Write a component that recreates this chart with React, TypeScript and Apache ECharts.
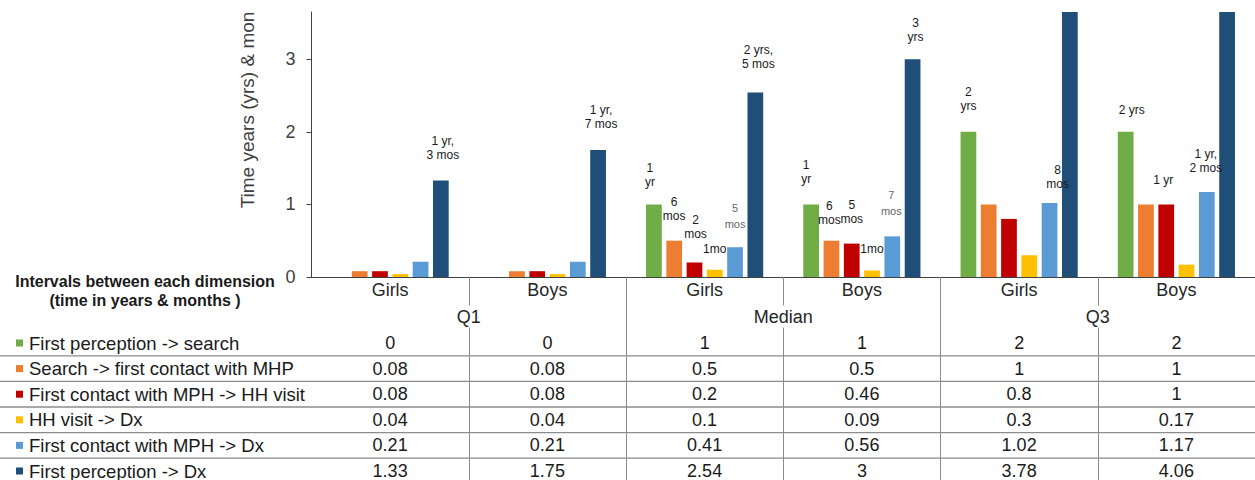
import React, { useEffect, useRef } from "react";
import * as echarts from "echarts";

// ---------- data ----------
const subCategories = ["Girls", "Boys", "Girls", "Boys", "Girls", "Boys"];
const groupCategories = ["Q1", "Median", "Q3"];
const seriesNames = [
  "First perception -> search",
  "Search -> first contact with MHP",
  "First contact with MPH -> HH visit",
  "HH visit -> Dx",
  "First contact with MPH -> Dx",
  "First perception -> Dx",
];
const perceptionToSearch = [0, 0, 1, 1, 2, 2];
const searchToContact = [0.08, 0.08, 0.5, 0.5, 1, 1];
const contactToVisit = [0.08, 0.08, 0.2, 0.46, 0.8, 1];
const visitToDx = [0.04, 0.04, 0.1, 0.09, 0.3, 0.17];
const contactToDx = [0.21, 0.21, 0.41, 0.56, 1.02, 1.17];
const perceptionToDx = [1.33, 1.75, 2.54, 3, 3.78, 4.06];
const yTickValues = [0, 1, 2, 3];
const headerLines = ["Intervals between each dimension", "(time in years & months )"];
const yAxisTitle = "Time years (yrs) & mon";
const barLabels = [
  ["", "", "1\nyr", "1\nyr", "2\nyrs", "2 yrs"],
  ["", "", "6\nmos", "6\nmos", "", ""],
  ["", "", "2\nmos", "5\nmos", "", "1 yr"],
  ["", "", "1mo", "1mo", "", ""],
  ["", "", "5\nmos", "7\nmos", "8\nmos", "1 yr,\n2 mos"],
  ["1 yr,\n3 mos", "1 yr,\n7 mos", "2 yrs,\n5 mos", "3\nyrs", "", ""],
];

const rows = [perceptionToSearch, searchToContact, contactToVisit, visitToDx, contactToDx, perceptionToDx];

// ---------- styles / layout ----------
const colors = ["#70AD47", "#ED7D31", "#C00000", "#FFC000", "#5B9BD5", "#1F4E79"];
const FONT = '"Liberation Sans", Arial, Helvetica, sans-serif';
const W = 1255;
const H = 480;
const GRID_LEFT = 311.5;
const GRID_WIDTH = 945;
const GRID_TOP = 12;
const AXIS_Y = 277;
const ROW_FIRST = 343;
const ROW_STEP = 25.6;

const labelNudges: Record<string, [number, number]> = {
  "5-0": [2, -1], "5-1": [3, -2],
  "0-2": [-4, 2], "1-2": [0, -1], "2-2": [1, -4], "3-2": [0, 3], "4-2": [0, 2], "5-2": [3, -5],
  "0-3": [-5, -1], "1-3": [-2, 3], "2-3": [0, -1], "3-3": [0, 3], "4-3": [-1, 0], "5-3": [3, 2],
  "0-4": [0, -2], "4-4": [8, 5],
  "0-5": [6, 2], "2-5": [-3, 0], "4-5": [-1, 0],
};
const softLabels = new Set(["4-2", "4-3"]);

function buildOption(): any {
  const xAxes: any[] = [
    {
      type: "category",
      gridIndex: 0,
      data: subCategories,
      position: "bottom",
      axisLine: { show: true, lineStyle: { color: "#404040", width: 1 } },
      axisTick: {
        show: true,
        length: H - AXIS_Y,
        interval: (i: number) => i !== 0,
        lineStyle: { color: "#8c8c8c", width: 1 },
      },
      axisLabel: {
        interval: 0,
        margin: 13,
        verticalAlign: "middle",
        fontSize: 18,
        color: "#262626",
        fontFamily: FONT,
      },
      splitLine: { show: false },
    },
    {
      type: "category",
      gridIndex: 0,
      data: groupCategories,
      position: "bottom",
      axisLine: { show: false },
      axisTick: { show: false },
      axisLabel: {
        interval: 0,
        margin: 39.5,
        verticalAlign: "middle",
        fontSize: 18,
        color: "#262626",
        fontFamily: FONT,
        backgroundColor: "#ffffff",
        padding: [0, 4],
        lineHeight: 22,
      },
      splitLine: { show: false },
    },
    ...rows.map((vals, r) => ({
      type: "category",
      gridIndex: 0,
      data: subCategories,
      position: "bottom",
      axisLine: { show: false },
      axisTick: { show: false },
      axisLabel: {
        interval: 0,
        margin: ROW_FIRST + r * ROW_STEP - AXIS_Y,
        verticalAlign: "middle",
        fontSize: 18,
        color: "#1a1a1a",
        fontFamily: FONT,
        formatter: (_v: string, idx: number) => String(vals[idx]),
      },
      splitLine: { show: false },
    })),
  ];

  const graphics: any[] = [
    {
      type: "text",
      x: 247,
      y: 110,
      rotation: Math.PI / 2,
      style: {
        text: yAxisTitle,
        fontSize: 19,
        fontFamily: FONT,
        fill: "#404040",
        align: "center",
        verticalAlign: "middle",
      },
    },
    ...headerLines.map((t, i) => ({
      type: "text",
      x: 145,
      y: 281 + i * 19,
      style: {
        text: t,
        fontSize: 16,
        fontWeight: "bold",
        fontFamily: FONT,
        fill: "#1a1a1a",
        align: "center",
        verticalAlign: "middle",
      },
    })),
  ];
  seriesNames.forEach((name, r) => {
    const cy = ROW_FIRST + r * ROW_STEP;
    graphics.push({
      type: "rect",
      shape: { x: 16, y: cy - 3.5, width: 7, height: 7 },
      style: { fill: colors[r] },
    });
    graphics.push({
      type: "text",
      x: 29,
      y: cy,
      style: {
        text: name,
        fontSize: 18.5,
        fontFamily: FONT,
        fill: "#1a1a1a",
        align: "left",
        verticalAlign: "middle",
      },
    });
    if (r < seriesNames.length - 1) {
      const ly = cy + ROW_STEP / 2;
      graphics.push({
        type: "line",
        shape: { x1: 0, y1: ly, x2: W, y2: ly },
        style: { stroke: "#8c8c8c", lineWidth: 1.3 },
      });
    }
  });

  return {
    animation: false,
    backgroundColor: "#ffffff",
    textStyle: { fontFamily: FONT },
    grid: { left: GRID_LEFT, width: GRID_WIDTH, top: GRID_TOP, height: AXIS_Y - GRID_TOP, containLabel: false },
    xAxis: xAxes,
    yAxis: {
      type: "value",
      min: 0,
      max: 3.65,
      interval: 1,
      axisLine: { show: true, lineStyle: { color: "#404040", width: 1 } },
      axisTick: { show: true, length: 5, customValues: yTickValues, lineStyle: { color: "#404040" } },
      axisLabel: { customValues: yTickValues, fontSize: 18, color: "#404040", margin: 16, fontFamily: FONT },
      splitLine: { show: false },
    },
    graphic: graphics,
    series: rows.map((vals, i) => ({
      type: "bar",
      name: seriesNames[i],
      xAxisIndex: 0,
      yAxisIndex: 0,
      barGap: "29%",
      barCategoryGap: "25.5%",
      itemStyle: { color: colors[i] },
      data: vals.map((v, j) => {
        const key = `${i}-${j}`;
        const txt = barLabels[i][j];
        const soft = softLabels.has(key);
        return {
          value: v,
          label: txt
            ? {
                show: true,
                position: "top",
                distance: 17,
                formatter: txt,
                offset: labelNudges[key] || [0, 0],
                fontSize: soft ? 11 : 12,
                lineHeight: soft ? 16 : 14,
                color: soft ? "#666666" : "#1a1a1a",
                fontFamily: FONT,
              }
            : { show: false },
        };
      }),
    })),
  };
}

export default function App() {
  const ref = useRef<HTMLDivElement>(null);
  useEffect(() => {
    if (!ref.current) return;
    const chart = echarts.init(ref.current, undefined, { renderer: "svg" });
    chart.setOption(buildOption());
    return () => chart.dispose();
  }, []);
  return (
    <div
      ref={ref}
      style={{ position: "absolute", left: 0, top: 0, width: W, height: H, background: "#fff" }}
    />
  );
}
